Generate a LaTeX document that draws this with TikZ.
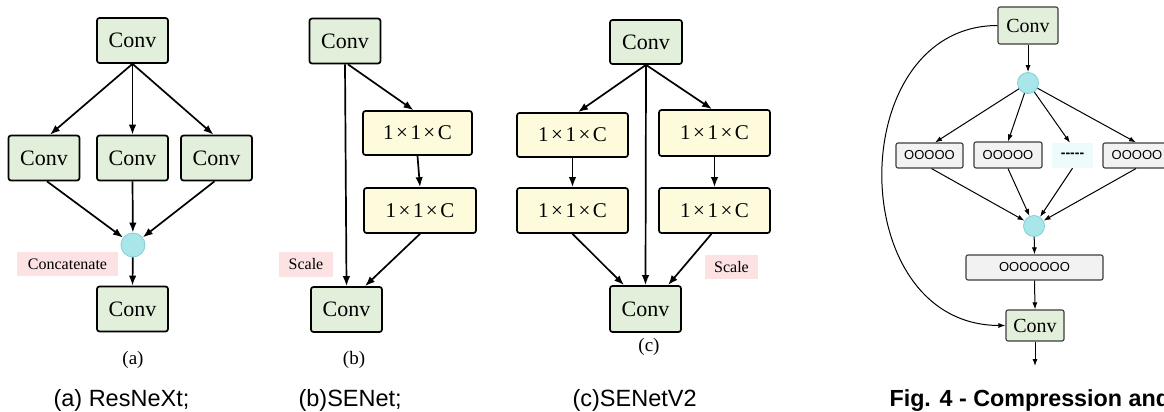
\documentclass[tikz,border=0pt]{standalone}
\usepackage{fontspec}
\setmainfont{Liberation Serif}
\newfontfamily\arial{Liberation Sans}
\usetikzlibrary{arrows.meta,calc}
\definecolor{convgreen}{HTML}{E2EFDA}
\definecolor{ylw}{HTML}{FEFBDC}
\definecolor{pinkl}{HTML}{FCE2E2}
\definecolor{cyanf}{HTML}{A9E6EA}
\definecolor{cyanb}{HTML}{80CFD6}
\definecolor{gfill}{HTML}{F2F2F2}
\definecolor{gborder}{HTML}{3C3C3C}
\definecolor{dashfill}{HTML}{EEFBFD}
\newcommand{\oxo}{1\kern2.5pt×\kern2.5pt1\kern2.5pt×\kern2.5ptC}
\begin{document}
\begin{tikzpicture}[x=1pt,y=-1pt,
  convbox/.style={draw=black, line width=1.7pt, fill=convgreen, rounded corners=2.5pt, inner sep=0pt, minimum width=71pt, minimum height=45pt, font=\fontsize{22}{24}\selectfont},
  ybox/.style={draw=black, line width=1.7pt, fill=ylw, rounded corners=2.5pt, inner sep=0pt, minimum width=111pt, minimum height=45pt, font=\fontsize{21}{24}\selectfont},
  lbl/.style={fill=pinkl, inner sep=0pt, minimum height=24pt, font=\fontsize{16}{18}\selectfont},
  circ/.style={circle, fill=cyanf, draw=cyanb, line width=0.8pt, minimum size=24pt, inner sep=0pt},
  smallcirc/.style={circle, fill=cyanf, draw=cyanb, line width=0.8pt, minimum size=21pt, inner sep=0pt},
  arr/.style={-{Latex[length=10pt,width=7.5pt]}, line width=1.7pt},
  thinarr/.style={-{Latex[length=7pt,width=5pt]}, line width=1pt},
  gbox/.style={draw=gborder, line width=1.1pt, fill=gfill, rounded corners=2pt, minimum height=25pt, inner sep=0pt, font=\arial\fontsize{13}{15}\selectfont},
  dconv/.style={draw=gborder, line width=1.1pt, fill=convgreen, rounded corners=2pt, inner sep=0pt, font=\fontsize{20}{22}\selectfont},
  sublbl/.style={font=\fontsize{19}{21}\selectfont},
  captxt/.style={font=\arial\fontsize{23.5}{26}\selectfont, anchor=base west}
]
\useasboundingbox (0,0) rectangle (1164,412);
\clip (0,0) rectangle (1164,412);
\fill[white] (0,0) rectangle (1164,412);

% ---------- (a) ResNeXt ----------
\node[convbox] (a0) at (132.5,40.5) {Conv};
\node[convbox] (a1) at (44,158) {Conv};
\node[convbox] (a2) at (132.5,158) {Conv};
\node[convbox] (a3) at (216.5,158) {Conv};
\node[circ] (ac) at (133,245) {};
\node[lbl, minimum width=101pt] (alab) at (67.5,264) {Concatenate};
\node[convbox] (a4) at (132.5,309) {Conv};
\node[sublbl] (asub) at (133,360) {(a)};
\draw[arr] (a0.south) -- ([xshift=6pt]a1.north);
\draw[arr] (a0.south) -- (a2.north);
\draw[arr] (a0.south) -- ([xshift=-3pt]a3.north);
\draw[arr] ([xshift=3pt]a1.south) -- (ac);
\draw[arr] (a2.south) -- (ac);
\draw[arr] ([xshift=-2pt]a3.south) -- (ac);
\draw[arr] (ac) -- (a4.north);

% ---------- (b) SENet ----------
\node[convbox] (b0) at (345,41) {Conv};
\node[ybox, minimum width=109pt, minimum height=44pt] (b1) at (417.5,133) {\oxo};
\node[ybox, minimum width=112pt] (b2) at (420,210.5) {\oxo};
\node[lbl, minimum width=54pt, minimum height=25pt] (blab) at (306,264.5) {Scale};
\node[convbox] (b3) at (346.5,309.5) {Conv};
\node[sublbl] (bsub) at (354,360) {(b)};
\draw[arr] (b0.south) -- (b3.north);
\draw[arr] ([xshift=3pt]b0.south) -- ([xshift=-4pt]b1.north);
\draw[arr] (b1.south) -- (b2.north);
\draw[arr] (b2.south) -- ([xshift=18.5pt]b3.north);

% ---------- (c) SENetV2 ----------
\node[convbox, minimum width=72pt, minimum height=44pt] (c0) at (646,42) {Conv};
\node[ybox, minimum height=44pt] (c1) at (572.5,135) {\oxo};
\node[ybox] (c2) at (572.5,210.5) {\oxo};
\node[ybox, minimum height=46pt] (c3) at (714.5,133) {\oxo};
\node[ybox] (c4) at (714.5,210.5) {\oxo};
\node[lbl, minimum width=53pt] (clab) at (731.5,267) {Scale};
\node[convbox, minimum height=46pt] (c5) at (645.5,309) {Conv};
\node[sublbl] (csub) at (649,347) {(c)};
\draw[arr] (c0.south) -- ([xshift=5.5pt]c1.north);
\draw[arr] (c0.south) -- ([xshift=-2.5pt]c3.north);
\draw[arr] (c0.south) -- (c5.north);
\draw[arr] (c1.south) -- (c2.north);
\draw[arr] (c3.south) -- (c4.north);
\draw[arr] (c2.south) -- ([xshift=-21.5pt]c5.north);
\draw[arr] ([xshift=-3pt]c4.south) -- ([xshift=22.5pt]c5.north);

% ---------- (d) ----------
\node[dconv, minimum width=60pt, minimum height=37pt] (d0) at (1028,25.5) {Conv};
\node[smallcirc] (dc1) at (1028,83) {};
\node[gbox, minimum width=67pt] (d1) at (929.5,155.5) {OOOOO};
\node[gbox, minimum width=68pt, minimum height=26pt] (d2) at (1008,155) {OOOOO};
\node[fill=dashfill, inner sep=0pt, minimum width=41pt, minimum height=25pt, font=\arial\bfseries\fontsize{14}{16}\selectfont] (dd) at (1072.5,155.5) {{-}{-}{-}{-}{-}};
\node[gbox, minimum width=68pt] (d4) at (1137,155.5) {OOOOO};
\node[smallcirc] (dc2) at (1034,226) {};
\node[gbox, minimum width=137pt] (d5) at (1034.5,267.5) {OOOOOOO};
\node[dconv, minimum width=58pt, minimum height=31pt] (d6) at (1035,325.5) {Conv};
\coordinate (dend) at (1035,366);
\draw[thinarr] (d0.south) -- (dc1);
\draw[thinarr] (dc1) -- ([xshift=5.5pt]d1.north);
\draw[thinarr] (dc1) -- (d2.north);
\draw[thinarr] (dc1) -- ([xshift=-2.5pt]dd.north);
\draw[thinarr] (dc1) -- ([xshift=-1pt]d4.north);
\draw[thinarr] ([xshift=2pt]d1.south) -- (dc2);
\draw[thinarr] (d2.south) -- (dc2);
\draw[thinarr] (dd.south) -- (dc2);
\draw[thinarr] ([xshift=-1pt]d4.south) -- (dc2);
\draw[thinarr] (dc2) -- (d5.north);
\draw[thinarr] (d5.south) -- (d6.north);
\draw[thinarr] (d6.south) -- (dend);
\draw[thinarr] (d0.west) .. controls (843,26) and (843,325) .. (d6.west);

% ---------- captions ----------
\node[captxt] (capa) at (50,406) {(a) ResNeXt;};
\node[captxt] (capb) at (295,406) {(b)SENet;};
\node[captxt] (capc) at (569,406) {(c)SENetV2};
\node[font=\arial\bfseries\fontsize{23.3}{26}\selectfont, anchor=base west] (capd) at (886,406) {Fig. 4 - Compression and};
\end{tikzpicture}
\end{document}
